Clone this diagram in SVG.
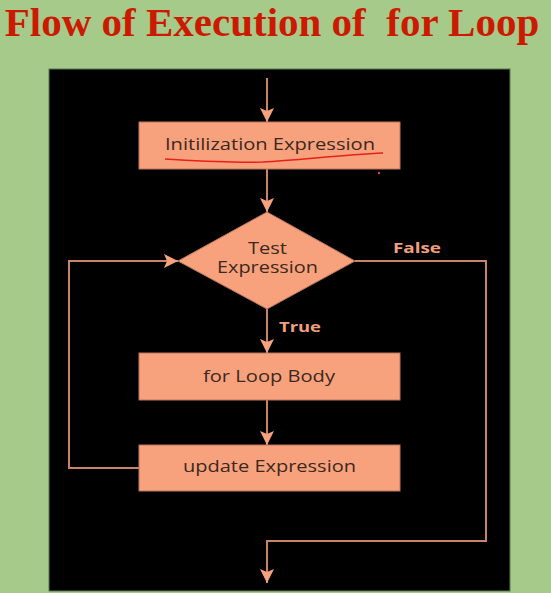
<svg xmlns="http://www.w3.org/2000/svg" width="551" height="593" viewBox="0 0 551 593">
<defs>
<style>
.box{fill:#f8a27d;stroke:#b9765c;stroke-width:1}
.lbl{font-family:"Open Sans","Noto Sans",sans-serif;font-size:16px;fill:#3b2820;text-anchor:middle}
.bold{font-family:"Open Sans","Noto Sans",sans-serif;font-size:15px;font-weight:bold;fill:#f0a07e}
.conn{fill:none;stroke:#c98468;stroke-width:2}
</style>
<marker id="ah" viewBox="0 0 14 14" refX="14" refY="7" markerWidth="14" markerHeight="14" markerUnits="userSpaceOnUse" orient="auto">
<path d="M0,0 L14,7 L0,14 L3,7 Z" fill="#f8a27d"/>
</marker>
</defs>
<rect x="0" y="0" width="551" height="593" fill="#a6ca8a"/>
<text x="272" y="36" text-anchor="middle" font-family="'Liberation Serif','Times New Roman',serif" font-weight="bold" font-size="41" fill="#cc1a00" xml:space="preserve">Flow of Execution of  for Loop</text>
<rect x="49" y="69" width="461" height="522" fill="#000" stroke="#5a7a4a" stroke-width="1"/>
<g id="connectors">
<path class="conn" d="M267,78 V122" marker-end="url(#ah)"/>
<path class="conn" d="M267,169 V212" marker-end="url(#ah)"/>
<path class="conn" d="M267,309 V353" marker-end="url(#ah)"/>
<path class="conn" d="M267,400 V445" marker-end="url(#ah)"/>
<path class="conn" d="M139,468 H69 V261 H178" marker-end="url(#ah)"/>
<path class="conn" d="M355,261 H486 V541 H267 V583" marker-end="url(#ah)"/>
<text class="bold" x="393" y="253" textLength="48" lengthAdjust="spacingAndGlyphs">False</text>
<text class="bold" x="279" y="332" textLength="42" lengthAdjust="spacingAndGlyphs">True</text>
</g>
<g id="init">
<rect class="box" x="139" y="122" width="261" height="47"/>
<text class="lbl" x="270" y="150" textLength="210" lengthAdjust="spacingAndGlyphs">Initilization Expression</text>
<path d="M165,159 C200,161 230,163 263,162 C300,160 340,155 383,153" fill="none" stroke="#e8201a" stroke-width="1.5"/>
<circle cx="379" cy="173" r="1.2" fill="#d0405a"/>
</g>
<g id="test">
<polygon class="box" points="267,212 355,261 267,309 178,261"/>
<text class="lbl" x="267.5" y="254" textLength="39" lengthAdjust="spacingAndGlyphs">Test</text>
<text class="lbl" x="267.5" y="273" textLength="101" lengthAdjust="spacingAndGlyphs">Expression</text>
</g>
<g id="body">
<rect class="box" x="139" y="353" width="261" height="47"/>
<text class="lbl" x="269" y="382" textLength="132" lengthAdjust="spacingAndGlyphs">for Loop Body</text>
</g>
<g id="update">
<rect class="box" x="139" y="445" width="261" height="46"/>
<text class="lbl" x="269.5" y="472" textLength="173" lengthAdjust="spacingAndGlyphs">update Expression</text>
</g>
</svg>
